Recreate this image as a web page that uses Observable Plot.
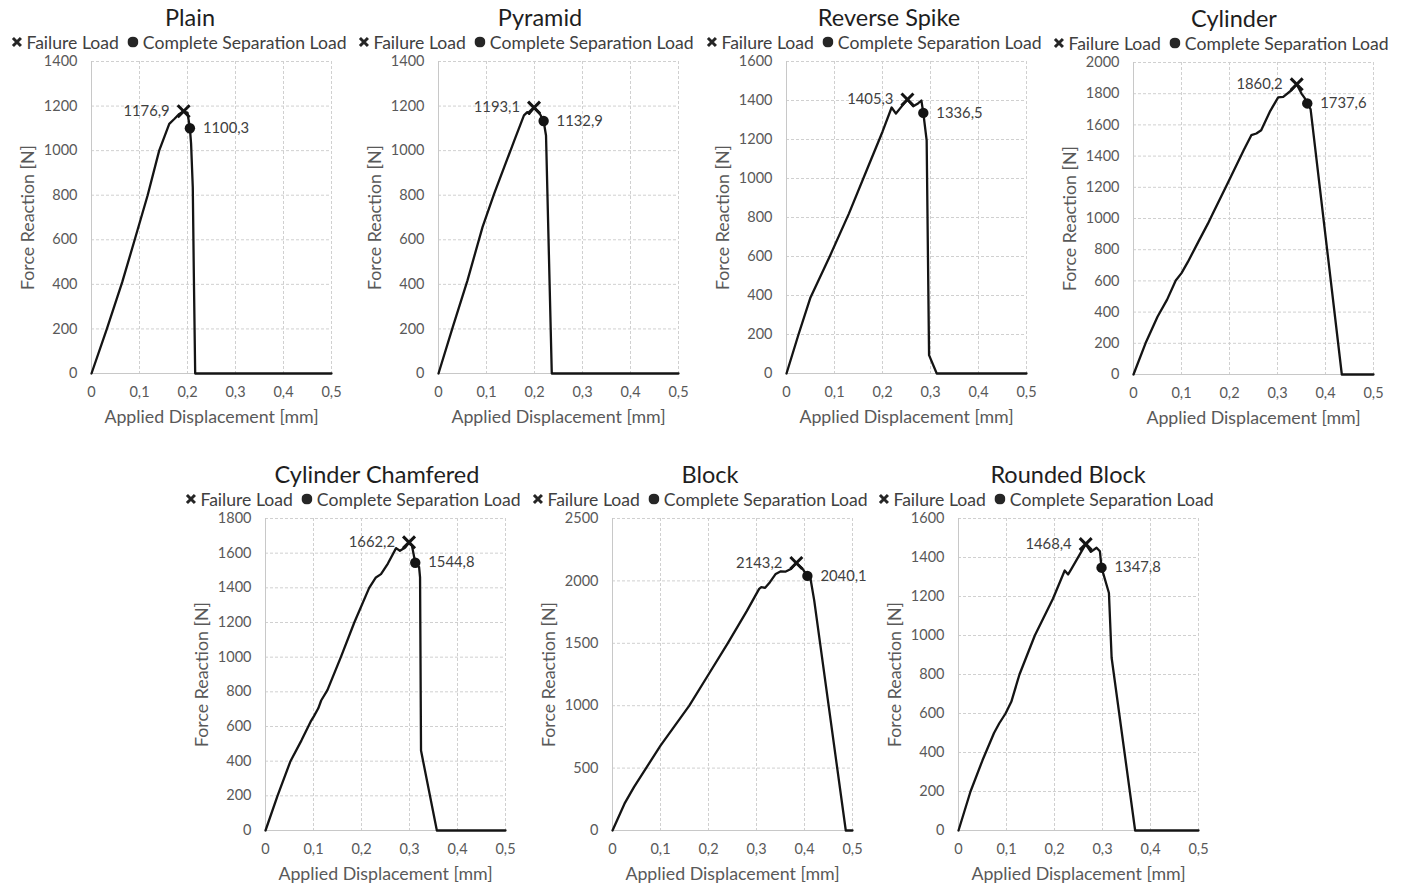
<!DOCTYPE html>
<html><head><meta charset="utf-8">
<script src="https://cdn.jsdelivr.net/npm/d3@7"></script>
<script src="https://cdn.jsdelivr.net/npm/@observablehq/plot@0.6"></script>
<style>
body{margin:0;background:#fff;width:1405px;height:886px;position:relative;overflow:hidden;font-family:Lato,sans-serif}
.ptitle{position:absolute;transform:translate(-50%,-50%);font-size:23.5px;color:#1e1e1e;white-space:nowrap}
.legend{position:absolute;transform:translate(-50%,-50%);font-size:17.6px;color:#404040;white-space:nowrap;display:flex;align-items:center}
.legend span{margin-left:4px}
.chart{position:absolute}
</style></head><body>
<script>
// ---- data ----
const panelTitles = ["Plain", "Pyramid", "Reverse Spike", "Cylinder", "Cylinder Chamfered", "Block", "Rounded Block"];
const xLabel = "Applied Displacement [mm]";
const yLabel = "Force Reaction [N]";
const legendLabels = ["Failure Load", "Complete Separation Load"];
const xTicks = [0, 0.1, 0.2, 0.3, 0.4, 0.5];
const yMaxes = [1400, 1400, 1600, 2000, 1800, 2500, 1600];
const yTickSteps = [200, 200, 200, 200, 200, 500, 200];

const plainX = [0, 0.032, 0.064, 0.09, 0.117, 0.141, 0.162, 0.173, 0.183, 0.192, 0.2, 0.205, 0.2075, 0.211, 0.213, 0.216, 0.5];
const plainY = [0, 200, 410, 600, 800, 1000, 1120, 1143, 1165, 1176.9, 1170, 1100.3, 1030, 836, 478, 0, 0];

const pyramidX = [0, 0.03, 0.0604, 0.0917, 0.116, 0.158, 0.178, 0.185, 0.189, 0.199, 0.21, 0.219, 0.224, 0.236, 0.5];
const pyramidY = [0, 210, 418, 657, 807, 1046, 1158, 1173, 1165, 1193.1, 1170, 1132.9, 1068, 0, 0];

const spikeX = [0, 0.025, 0.05, 0.09, 0.13, 0.17, 0.2, 0.219, 0.228, 0.24, 0.252, 0.264, 0.274, 0.281, 0.285, 0.292, 0.297, 0.313, 0.5];
const spikeY = [0, 200, 390, 600, 820, 1060, 1240, 1364, 1333, 1370, 1405.3, 1370, 1385, 1400, 1336.5, 1196, 94, 0, 0];

const cylinderX = [0, 0.025, 0.05, 0.07, 0.088, 0.1, 0.113, 0.135, 0.155, 0.165, 0.2, 0.23, 0.2455, 0.256, 0.266, 0.285, 0.3014, 0.312, 0.329, 0.34, 0.35, 0.356, 0.362, 0.369, 0.434, 0.5];
const cylinderY = [0, 200, 370, 480, 603, 650, 720, 850, 967, 1031, 1250, 1440, 1534, 1545, 1566, 1690, 1776, 1780, 1822, 1860.2, 1801, 1775, 1737.6, 1700, 0, 0];

const chamferX = [0, 0.025, 0.052, 0.075, 0.094, 0.101, 0.11, 0.116, 0.129, 0.157, 0.185, 0.216, 0.23, 0.2406, 0.255, 0.272, 0.28, 0.291, 0.299, 0.305, 0.312, 0.32, 0.322, 0.324, 0.357, 0.5];
const chamferY = [0, 200, 400, 520, 628, 660, 705, 750, 810, 1000, 1200, 1400, 1460, 1479, 1540, 1629, 1614, 1633, 1662.2, 1645, 1544.8, 1520, 1460, 461, 0, 0];

const blockX = [0, 0.025, 0.045, 0.07, 0.1, 0.13, 0.16, 0.2, 0.24, 0.28, 0.3055, 0.31, 0.318, 0.328, 0.34, 0.3507, 0.361, 0.3716, 0.383, 0.396, 0.406, 0.412, 0.4203, 0.486, 0.5];
const blockY = [0, 215, 350, 500, 680, 840, 1000, 1250, 1500, 1760, 1936, 1950, 1945, 1990, 2056, 2077, 2075, 2096, 2143.2, 2096, 2040.1, 2029, 1842, 0, 0];

const roundedX = [0, 0.025, 0.05, 0.074, 0.085, 0.098, 0.11, 0.127, 0.159, 0.197, 0.2213, 0.2284, 0.235, 0.265, 0.2757, 0.2876, 0.2946, 0.298, 0.3134, 0.319, 0.368, 0.5];
const roundedY = [0, 200, 360, 500, 550, 600, 660, 800, 1000, 1190, 1333, 1313, 1340, 1468.4, 1429, 1450, 1432, 1347.8, 1218, 886, 0, 0];

const failureX = [0.192, 0.199, 0.252, 0.34, 0.299, 0.383, 0.265];
const failureY = [1176.9, 1193.1, 1405.3, 1860.2, 1662.2, 2143.2, 1468.4];
const separationX = [0.205, 0.219, 0.285, 0.362, 0.312, 0.406, 0.298];
const separationY = [1100.3, 1132.9, 1336.5, 1737.6, 1544.8, 2040.1, 1347.8];

const seriesX = [plainX, pyramidX, spikeX, cylinderX, chamferX, blockX, roundedX];
const seriesY = [plainY, pyramidY, spikeY, cylinderY, chamferY, blockY, roundedY];

// ---- layout ----
const plotLeft = [91, 438, 786, 1133, 265, 612, 958];
const plotTop = [61, 61, 61, 62, 518, 518, 518];
const titleOffset = [99, 102, 103, 101, 112, 98, 110];
const ML = 80, MR = 20, MT = 12, MB = 60, PW = 240, PH = 312;

const fmt = d => String(d).replace(".", ",");

panelTitles.forEach((title, i) => {
  const data = seriesX[i].map((x, j) => ({x, y: seriesY[i][j]}));
  const yTicks = d3.range(0, yMaxes[i] + 1, yTickSteps[i]);
  const svg = Plot.plot({
    width: ML + PW + MR, height: MT + PH + MB,
    marginLeft: ML, marginRight: MR, marginTop: MT, marginBottom: MB,
    style: {fontFamily: "Lato, sans-serif", fontSize: "14.5px", color: "#595959", background: "transparent", overflow: "visible"},
    x: {domain: [0, 0.5]},
    y: {domain: [0, yMaxes[i]]},
    marks: [
      Plot.ruleX(xTicks.filter(d => d > 0), {stroke: "#d0d0d0", strokeDasharray: "3,2"}),
      Plot.ruleY(yTicks.filter(d => d > 0), {stroke: "#d0d0d0", strokeDasharray: "3,2"}),
      Plot.ruleX([0], {stroke: "#c8c8c8"}),
      Plot.ruleY([0], {stroke: "#c8c8c8"}),
      Plot.axisX(xTicks, {tickFormat: fmt, tickSize: 0, tickPadding: 13, label: null, fill: "#595959"}),
      Plot.axisY(yTicks, {tickFormat: d => String(d), tickSize: 0, tickPadding: 14, label: null, fill: "#595959"}),
      Plot.text([xLabel], {text: d => d, frameAnchor: "bottom", dy: 44, lineAnchor: "middle", textAnchor: "middle", fontSize: 17.8, fill: "#595959"}),
      Plot.text([yLabel], {text: d => d, frameAnchor: "left", dx: -63, rotate: -90, textAnchor: "middle", lineAnchor: "middle", fontSize: 17.8, fill: "#595959"}),
      Plot.line(data, {x: "x", y: "y", stroke: "#141414", strokeWidth: 2.3, strokeLinejoin: "round"}),
      Plot.dot([0], {x: () => failureX[i], y: () => failureY[i], symbol: "times", r: 5.5, stroke: "#141414", strokeWidth: 3}),
      Plot.dot([0], {x: () => separationX[i], y: () => separationY[i], symbol: "circle", r: 5.2, fill: "#141414", stroke: "none"}),
      Plot.text([0], {x: () => failureX[i], y: () => failureY[i], text: () => fmt(failureY[i]), dx: -14, textAnchor: "end", fontSize: 14.8, fill: "#404040"}),
      Plot.text([0], {x: () => separationX[i], y: () => separationY[i], text: () => fmt(separationY[i]), dx: 13, textAnchor: "start", fontSize: 14.8, fill: "#404040"})
    ]
  });
  const wrap = document.createElement("div");
  wrap.className = "chart";
  wrap.style.left = (plotLeft[i] - ML) + "px";
  wrap.style.top = (plotTop[i] - MT) + "px";
  wrap.appendChild(svg);
  document.body.appendChild(wrap);

  const t = document.createElement("div");
  t.className = "ptitle";
  t.textContent = title;
  t.style.left = (plotLeft[i] + titleOffset[i]) + "px";
  t.style.top = (plotTop[i] - 44) + "px";
  document.body.appendChild(t);

  const lg = document.createElement("div");
  lg.className = "legend";
  lg.style.left = (plotLeft[i] + 88) + "px";
  lg.style.top = (plotTop[i] - 19) + "px";
  lg.innerHTML =
    '<svg width="11" height="11"><path d="M1.5,1.5L9.5,9.5M9.5,1.5L1.5,9.5" stroke="#262626" stroke-width="3"/></svg>' +
    '<span>' + legendLabels[0] + '</span>' +
    '<svg width="11" height="11" style="margin-left:9px"><circle cx="5.5" cy="5.5" r="5.5" fill="#262626"/></svg>' +
    '<span>' + legendLabels[1] + '</span>';
  document.body.appendChild(lg);
});
</script></body></html>
